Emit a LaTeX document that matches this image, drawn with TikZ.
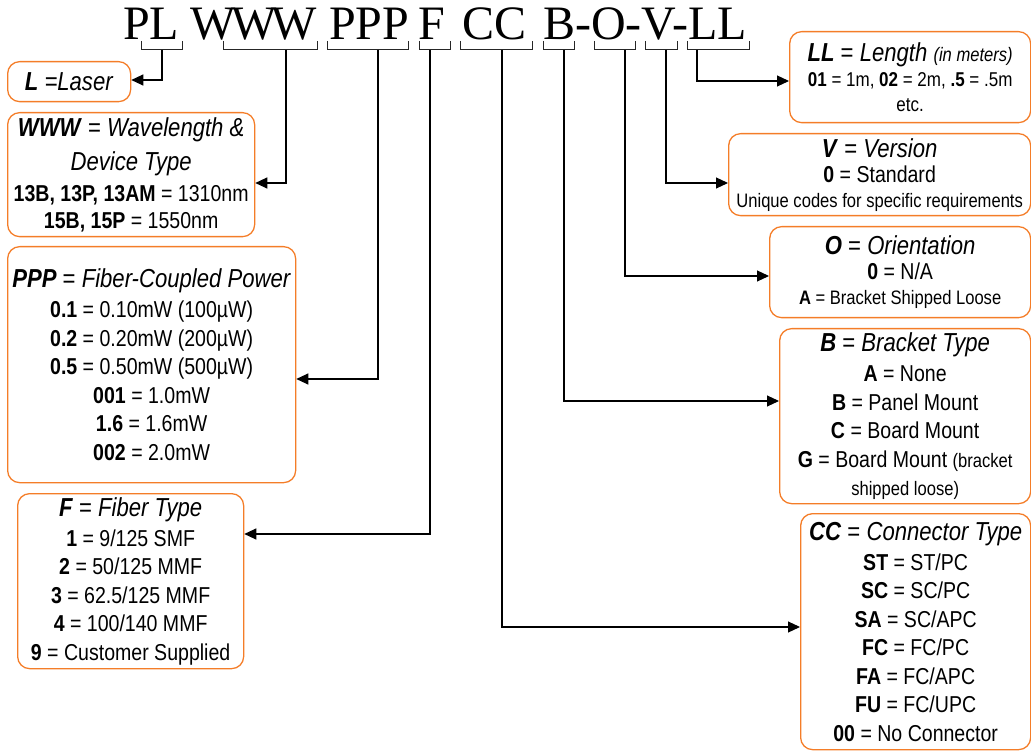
\documentclass[tikz,border=0pt]{standalone}
\usepackage{fontspec}
\setmainfont[FakeStretch=0.85]{Liberation Sans}
\newfontfamily\titlefont{Liberation Serif}
\usetikzlibrary{arrows.meta}
\definecolor{boxorange}{RGB}{244,125,40}
\newcommand{\myhdr}{\fontsize{26}{30}\selectfont}
\newcommand{\mysml}{\fontsize{19.5}{24}\selectfont}
\newcommand{\mybi}[1]{\textbf{\textit{#1}}}
\tikzset{
  box/.style={draw=boxorange, line width=1.3pt, rounded corners=12pt, anchor=north west, inner sep=0pt, align=center},
  det/.style={font=\fontsize{23}{28.5}\selectfont},
  tight/.style={font=\fontsize{23}{25}\selectfont},
  ttl/.style={font=\titlefont\fontsize{48}{52}\selectfont, anchor=base west, inner sep=0pt},
  brk/.style={draw=black!85, line width=1pt},
  arr/.style={draw=black, line width=1.1pt, -{Triangle[length=12pt,width=11pt]}}
}
\begin{document}
\begin{tikzpicture}[x=1pt,y=-1pt]
\useasboundingbox (0,0) rectangle (1031,751);
% title segments
\node[ttl] (tPL) at (123,40) {PL};
\node[ttl] (tW) at (190,40) {W\kern-4.5pt W\kern-4.5pt W};
\node[ttl] (tP) at (329,40) {PPP};
\node[ttl] (tF) at (418,40) {F};
\node[ttl] (tC) at (462,40) {CC};
\node[ttl] (tB) at (543,40) {B-O-V-LL};
% brackets
\draw[brk] (141,41) -- (141,50) -- (182,50) -- (182,41);
\draw[brk] (223,41) -- (223,50) -- (317,50) -- (317,41);
\draw[brk] (327,41) -- (327,50) -- (408,50) -- (408,41);
\draw[brk] (419,41) -- (419,50) -- (450,50) -- (450,41);
\draw[brk] (460,41) -- (460,50) -- (532,50) -- (532,41);
\draw[brk] (543,41) -- (543,50) -- (574,50) -- (574,41);
\draw[brk] (594,41) -- (594,50) -- (635,50) -- (635,41);
\draw[brk] (645,41) -- (645,50) -- (677,50) -- (677,41);
\draw[brk] (687,41) -- (687,50) -- (749,50) -- (749,41);
\coordinate (sL) at (162,50);
\coordinate (sW) at (286,50);
\coordinate (sP) at (378,50);
\coordinate (sF) at (430,50);
\coordinate (sC) at (502,50);
\coordinate (sB) at (564,50);
\coordinate (sO) at (625,50);
\coordinate (sV) at (666,50);
\coordinate (sLL) at (697,50);
\coordinate (yL) at (0,80);
\coordinate (yW) at (0,183);
\coordinate (yP) at (0,379);
\coordinate (yF) at (0,534);
\coordinate (yC) at (0,627);
\coordinate (yB) at (0,401);
\coordinate (yO) at (0,276);
\coordinate (yV) at (0,183);
\coordinate (yLL) at (0,81);
% left boxes
\node[box, minimum width=123pt, minimum height=40pt] (bL) at (7,61)
  {\myhdr\mybi{L}\textit{ =Laser}};
\node[box, font=\fontsize{23}{27}\selectfont, minimum width=247pt, minimum height=124pt] (bW) at (7,112)
  {{\myhdr\mybi{WWW} = \textit{Wavelength \&}}\\[7pt]
   {\myhdr\textit{Device Type}}\\[4pt]
   \textbf{13B, 13P, 13AM} = 1310nm\\
   \textbf{15B, 15P} = 1550nm};
\node[box, det, minimum width=288pt, minimum height=236pt] (bP) at (7,246)
  {{\myhdr\mybi{PPP} = \textit{Fiber-Coupled Power}}\\[1.5pt]
   \textbf{0.1} = 0.10mW (100µW)\\
   \textbf{0.2} = 0.20mW (200µW)\\
   \textbf{0.5} = 0.50mW (500µW)\\
   \textbf{001} = 1.0mW\\
   \textbf{1.6} = 1.6mW\\
   \textbf{002} = 2.0mW};
\node[box, det, minimum width=226pt, minimum height=175pt] (bF) at (17,493)
  {{\myhdr\mybi{F} = \textit{Fiber Type}}\\[1.5pt]
   \textbf{1} = 9/125 SMF\\
   \textbf{2} = 50/125 MMF\\
   \textbf{3} = 62.5/125 MMF\\
   \textbf{4} = 100/140 MMF\\
   \textbf{9} = Customer Supplied};
% right boxes
\node[box, tight, minimum width=241pt, minimum height=91pt] (bLL) at (789,31)
  {{\myhdr\mybi{LL} = \textit{Length {\mysml(in meters)}}}\\
   {\fontsize{20}{24}\selectfont\textbf{01} = 1m, \textbf{02} = 2m, \textbf{.5} = .5m}\\
   {\fontsize{20}{24}\selectfont etc.}};
\node[box, tight, minimum width=302pt, minimum height=82pt] (bV) at (728,133)
  {{\myhdr\mybi{V} = \textit{Version}}\\
   \textbf{0} = Standard\\
   {\mysml Unique codes for specific requirements}};
\node[box, tight, minimum width=261pt, minimum height=91pt] (bO) at (769,226)
  {{\myhdr\mybi{O} = \textit{Orientation}}\\
   \textbf{0} = N/A\\
   {\mysml\textbf{A} = Bracket Shipped Loose}};
\node[box, det, minimum width=251pt, minimum height=175pt] (bB) at (779,328)
  {{\myhdr\mybi{B} = \textit{Bracket Type}}\\[1.5pt]
   \textbf{A} = None\\
   \textbf{B} = Panel Mount\\
   \textbf{C} = Board Mount\\
   \textbf{G} = Board Mount {\mysml(bracket}\\
   {\mysml shipped loose)}};
\node[box, det, minimum width=230pt, minimum height=236pt] (bCC) at (800,513)
  {{\myhdr\mybi{CC} = \textit{Connector Type}}\\[1.5pt]
   \textbf{ST} = ST/PC\\
   \textbf{SC} = SC/PC\\
   \textbf{SA} = SC/APC\\
   \textbf{FC} = FC/PC\\
   \textbf{FA} = FC/APC\\
   \textbf{FU} = FC/UPC\\
   \textbf{00} = No Connector};
% connectors
\draw[arr] (sL) |- (bL.east |- yL);
\draw[arr] (sW) |- (bW.east |- yW);
\draw[arr] (sP) |- (bP.east |- yP);
\draw[arr] (sF) |- (bF.east |- yF);
\draw[arr] (sC) |- (bCC.west |- yC);
\draw[arr] (sB) |- (bB.west |- yB);
\draw[arr] (sO) |- (bO.west |- yO);
\draw[arr] (sV) |- (bV.west |- yV);
\draw[arr] (sLL) |- (bLL.west |- yLL);
\end{tikzpicture}
\end{document}
